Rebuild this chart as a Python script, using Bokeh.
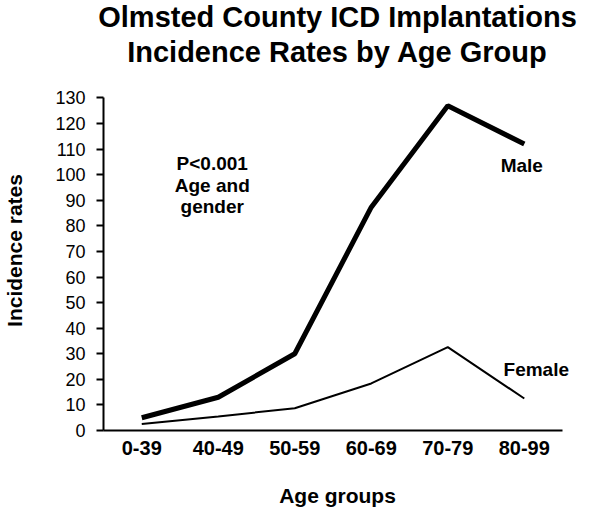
from bokeh.plotting import figure
from bokeh.models import FixedTicker, Label, Range1d
from bokeh.embed import file_html
from bokeh.resources import INLINE

age_groups = ["0-39", "40-49", "50-59", "60-69", "70-79", "80-99"]
male = [5, 13, 30, 87.3, 127, 112]
female = [2.5, 5.5, 8.7, 18.4, 32.6, 12.5]
y_ticks = list(range(0, 131, 10))

ann_text = ["P<0.001", "Age and", "gender", "Male", "Female"]
ann_x = ["40-49", "40-49", "40-49", "80-99", "80-99"]
ann_y = [104.2, 95.6, 87.6, 103.6, 23.8]
ann_dx = [-6, -6, -6, -2.5, 12]

title_lines = ["Olmsted County ICD Implantations", "Incidence Rates by Age Group"]

FONT = "Liberation Sans"

# category i is centred at i + 0.5
pos = {g: i + 0.5 for i, g in enumerate(age_groups)}
xs = [pos[g] for g in age_groups]

p = figure(x_range=Range1d(0, 6.117), y_range=Range1d(0, 140.75), width=593, height=514,
           output_backend="svg", toolbar_location=None,
           min_border_left=101, min_border_right=22, min_border_top=70, min_border_bottom=84)
p.outline_line_color = None
p.xgrid.grid_line_color = None
p.ygrid.grid_line_color = None

p.line(xs, male, line_color="black", line_width=5)
p.line(xs, female, line_color="black", line_width=2)

for t, x, y, dx in zip(ann_text, ann_x, ann_y, ann_dx):
    p.add_layout(Label(x=pos[x], y=y, x_offset=dx, text=t,
                       text_align="center", text_baseline="middle", text_font=FONT,
                       text_font_style="bold", text_font_size="19px", text_color="black"))

# y axis
p.yaxis.ticker = FixedTicker(ticks=y_ticks)
p.yaxis.bounds = (y_ticks[0], y_ticks[-1])
p.yaxis.minor_tick_line_color = None
p.yaxis.major_tick_in = 0
p.yaxis.major_tick_out = 7
p.yaxis.major_tick_line_width = 2
p.yaxis.axis_line_width = 2
p.yaxis.major_label_text_font = FONT
p.yaxis.major_label_text_font_size = "18px"
p.yaxis.major_label_text_color = "black"
p.yaxis.major_label_standoff = 11
p.yaxis.axis_label = "Incidence rates"
p.yaxis.axis_label_text_font = FONT
p.yaxis.axis_label_text_font_size = "21px"
p.yaxis.axis_label_text_font_style = "bold"
p.yaxis.axis_label_text_color = "black"
p.yaxis.axis_label_standoff = 26

# x axis (categorical labels on factor centres)
p.xaxis.ticker = FixedTicker(ticks=xs)
p.xaxis.major_label_overrides = {x: g for x, g in zip(xs, age_groups)}
p.xaxis.bounds = (0, len(age_groups))
p.xaxis.minor_tick_line_color = None
p.xaxis.major_tick_in = 0
p.xaxis.major_tick_out = 0
p.xaxis.axis_line_width = 2
p.xaxis.major_label_text_font = FONT
p.xaxis.major_label_text_font_size = "20px"
p.xaxis.major_label_text_font_style = "bold"
p.xaxis.major_label_text_color = "black"
p.xaxis.major_label_standoff = 10
p.xaxis.axis_label = "Age groups"
p.xaxis.axis_label_text_font = FONT
p.xaxis.axis_label_text_font_size = "21px"
p.xaxis.axis_label_text_font_style = "bold"
p.xaxis.axis_label_text_color = "black"
p.xaxis.axis_label_standoff = 26

p.title.text = "\n".join(title_lines)
p.title.align = "center"
if "text_align" in p.title.properties():
    p.title.text_align = "center"
p.title.vertical_align = "top"
p.title.text_font = FONT
p.title.text_font_size = "29px"
p.title.text_font_style = "bold"
p.title.text_color = "black"
p.title.text_line_height = 1.12
p.title.standoff = 0

open("out.html", "w").write(file_html(p, INLINE))
